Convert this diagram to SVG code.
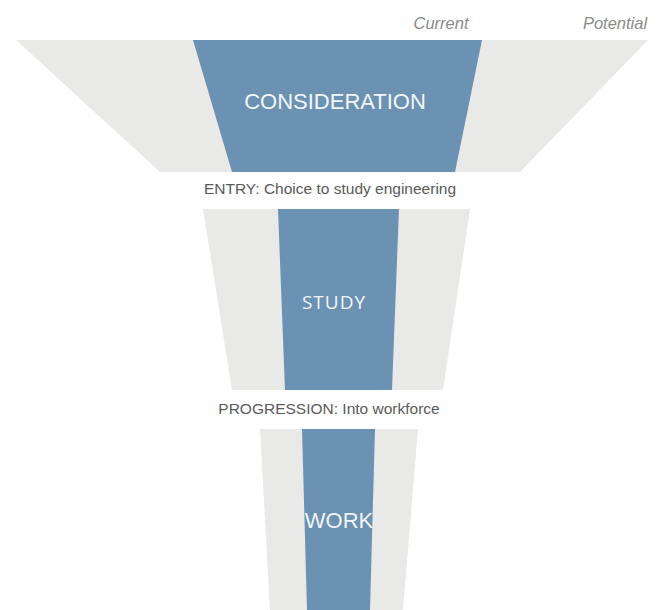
<svg xmlns="http://www.w3.org/2000/svg" width="657" height="610" viewBox="0 0 657 610">
<style>
.g{fill:#e9e9e7}
.b{fill:#6b91b3}
.lbl{font-family:"Liberation Sans",Arial,sans-serif;fill:#ffffff;opacity:0.92}
.cap{font-family:"Liberation Sans",Arial,sans-serif;fill:#5a5a5a;font-size:15.5px}
.hdr{font-family:"Liberation Sans",Arial,sans-serif;fill:#8a8a8a;font-size:16.5px;font-style:italic}
</style>
<rect width="657" height="610" fill="#ffffff"/>
<g id="headers">
<text class="hdr" x="441" y="29" text-anchor="middle">Current</text>
<text class="hdr" x="615" y="29" text-anchor="middle">Potential</text>
</g>
<g id="consideration">
<polygon class="g" points="16,40 648,40 520,172 160,172"/>
<polygon class="b" points="193,40 482,40 455,172 232,172"/>
<text class="lbl" x="335" y="109" text-anchor="middle" font-size="22">CONSIDERATION</text>
</g>
<g id="entry">
<text class="cap" x="330" y="194" text-anchor="middle">ENTRY: Choice to study engineering</text>
</g>
<g id="study">
<polygon class="g" points="203,209 470,209 443,390 232,390"/>
<polygon class="b" points="278,209 399,209 392,390 285,390"/>
<text class="lbl" x="334" y="309" text-anchor="middle" font-size="19" letter-spacing="1" style="font-family:'Open Sans',sans-serif">STUDY</text>
</g>
<g id="progression">
<text class="cap" x="329" y="414" text-anchor="middle">PROGRESSION: Into workforce</text>
</g>
<g id="work">
<polygon class="g" points="260,429 418,429 403,610 270,610"/>
<polygon class="b" points="302,429 375,429 370,610 307,610"/>
<text class="lbl" x="339" y="528" text-anchor="middle" font-size="22">WORK</text>
</g>
</svg>
